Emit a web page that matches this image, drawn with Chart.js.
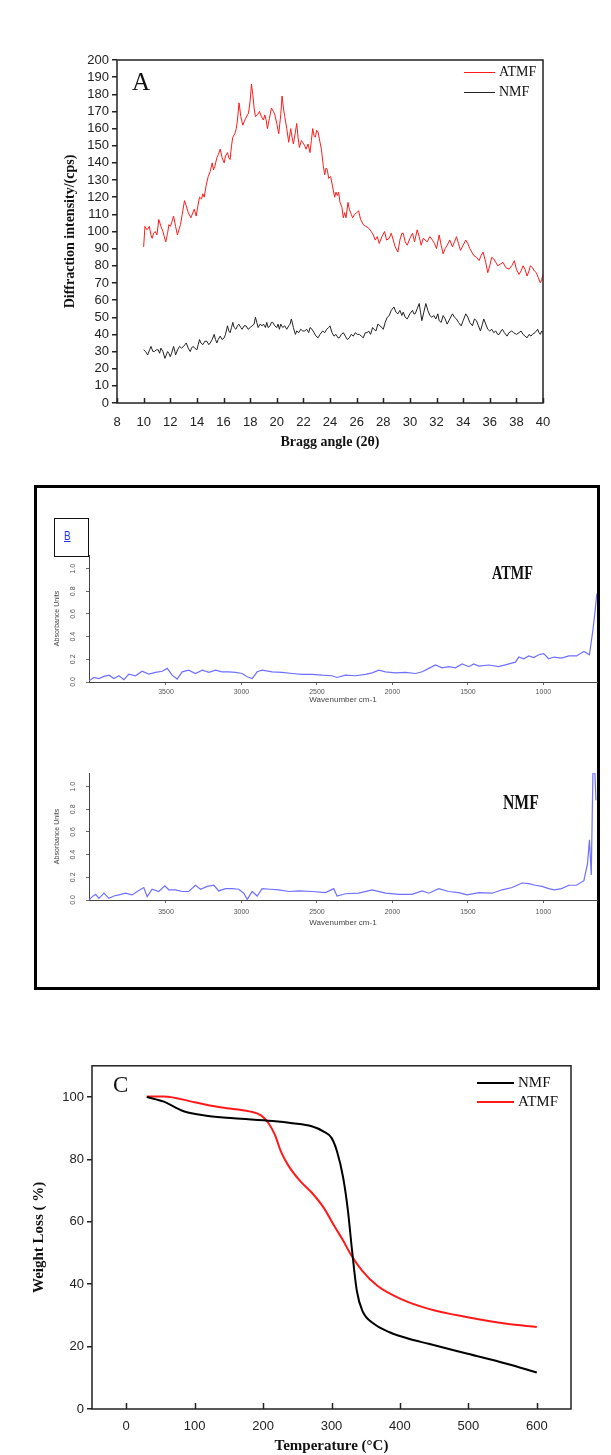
<!DOCTYPE html>
<html lang="en">
<head>
<meta charset="UTF-8">
<title>XRD / FTIR / TGA</title>
<script src="https://cdn.jsdelivr.net/npm/chart.js"></script>
<style>
    body { margin: 0; background: #fff; width: 611px; height: 1455px; position: relative; overflow: hidden; }
    canvas, .abs { position: absolute; }
    .serif { font-family: "Liberation Serif", "Times New Roman", serif; color: #111; }
    .leg { position: absolute; }
    .tag { font-weight: bold; transform-origin: left center; transform: scaleX(0.75); }
</style>
</head>
<body>

<!-- panel A -->
<canvas id="xrd" width="611" height="411" style="left:0;top:40px"></canvas>
<div class="abs serif" style="left:132px;top:69px;font-size:25px;line-height:25px">A</div>
<div class="leg" style="left:464px;top:72px;width:31px;height:1px;background:#ff1a1a"></div>
<div class="abs serif" style="left:499px;top:64px;font-size:14px;line-height:16px">ATMF</div>
<div class="leg" style="left:464px;top:92px;width:31px;height:1px;background:#222"></div>
<div class="abs serif" style="left:499px;top:84px;font-size:14px;line-height:16px">NMF</div>

<!-- panel B -->
<div class="abs" style="left:34px;top:485px;width:566px;height:505px;border:3px solid #000;box-sizing:border-box"></div>
<div class="abs" style="left:54px;top:518px;width:35px;height:39px;border:1.5px solid #111;box-sizing:border-box"></div>
<div class="abs" style="left:64px;top:528px;font-family:'Liberation Sans',Arial;font-size:13px;line-height:16px;color:#2233ee;text-decoration:underline;transform:scaleX(0.75);transform-origin:left center">B</div>
<canvas id="ftirA" width="560" height="155" style="left:40px;top:550px"></canvas>
<canvas id="ftirN" width="560" height="160" style="left:40px;top:768px"></canvas>
<div class="abs serif tag" style="left:492px;top:562px;font-size:19px;line-height:22px">ATMF</div>
<div class="abs serif tag" style="left:503px;top:790px;font-size:21px;line-height:24px">NMF</div>

<!-- panel C -->
<canvas id="tga" width="611" height="400" style="left:0;top:1055px"></canvas>
<div class="abs serif" style="left:113px;top:1073px;font-size:23px;line-height:23px">C</div>
<div class="leg" style="left:477px;top:1082px;width:37px;height:2px;background:#000"></div>
<div class="abs serif" style="left:518px;top:1074px;font-size:15px;line-height:17px">NMF</div>
<div class="leg" style="left:477px;top:1101px;width:37px;height:2px;background:#ff1a1a"></div>
<div class="abs serif" style="left:518px;top:1093px;font-size:15px;line-height:17px">ATMF</div>

<script>
    // ---- A: XRD, Bragg angle (2θ) vs intensity (cps)
    const xrdAngleATMF = [10.0, 10.1, 10.25, 10.35, 10.43, 10.55, 10.64, 10.75, 10.87, 11.0, 11.14, 11.3, 11.45, 11.55, 11.66, 11.8, 11.9, 12.0, 12.1, 12.25, 12.4, 12.54, 12.65, 12.77, 12.9, 13.07, 13.2, 13.35, 13.55, 13.7, 13.8, 13.95, 14.1, 14.2, 14.35, 14.45, 14.55, 14.7, 14.85, 15.0, 15.15, 15.25, 15.35, 15.5, 15.62, 15.75, 15.9, 16.05, 16.15, 16.3, 16.4, 16.5, 16.6, 16.7, 16.85, 16.96, 17.05, 17.17, 17.3, 17.45, 17.55, 17.67, 17.8, 17.88, 18.0, 18.1, 18.2, 18.3, 18.4, 18.55, 18.7, 18.85, 19.0, 19.1, 19.2, 19.3, 19.45, 19.6, 19.75, 19.86, 20.0, 20.15, 20.3, 20.4, 20.5, 20.6, 20.75, 20.9, 21.05, 21.15, 21.25, 21.4, 21.5, 21.6, 21.7, 21.85, 21.95, 22.1, 22.2, 22.35, 22.5, 22.6, 22.7, 22.8, 22.9, 23.0, 23.1, 23.2, 23.35, 23.5, 23.6, 23.7, 23.8, 23.9, 24.05, 24.2, 24.35, 24.45, 24.55, 24.65, 24.75, 24.9, 25.0, 25.1, 25.2, 25.35, 25.45, 25.6, 25.7, 25.85, 26.0, 26.15, 26.3, 26.5, 26.7, 26.9, 27.1, 27.25, 27.4, 27.55, 27.7, 27.9, 28.1, 28.25, 28.45, 28.6, 28.75, 28.9, 29.1, 29.25, 29.4, 29.5, 29.65, 29.8, 30.0, 30.2, 30.35, 30.55, 30.7, 30.85, 31.0, 31.15, 31.3, 31.5, 31.7, 31.85, 32.0, 32.2, 32.35, 32.5, 32.65, 32.8, 33.0, 33.2, 33.35, 33.5, 33.65, 33.8, 34.0, 34.2, 34.35, 34.5, 34.65, 34.8, 35.0, 35.2, 35.35, 35.5, 35.7, 35.85, 36.0, 36.15, 36.3, 36.45, 36.6, 36.8, 37.0, 37.2, 37.45, 37.65, 37.85, 38.0, 38.2, 38.35, 38.5, 38.65, 38.8, 38.95, 39.05, 39.2, 39.35, 39.5, 39.65, 39.8, 39.9, 40.0];
    const xrdIntATMF = [91, 103, 101, 102, 103, 98, 96, 99, 100, 98, 107, 103, 100, 97, 94, 99, 104, 103, 105, 109, 103, 98, 101, 104, 110, 118, 115, 111, 108, 111, 113, 109, 116, 120, 119, 122, 120, 127, 132, 135, 140, 136, 138, 143, 145, 148, 143, 140, 144, 146, 143, 142, 150, 155, 157, 160, 165, 175, 167, 162, 164, 166, 168, 169, 176, 186, 180, 172, 167, 168, 170, 167, 165, 168, 165, 160, 166, 172, 170, 168, 163, 157, 168, 179, 172, 167, 160, 152, 160, 155, 151, 158, 163, 155, 149, 153, 152, 150, 148, 151, 146, 153, 160, 156, 155, 159, 158, 154, 148, 138, 133, 137, 136, 131, 132, 126, 120, 123, 121, 123, 117, 114, 108, 111, 108, 117, 113, 110, 108, 110, 111, 112, 107, 104, 103, 102, 100, 98, 95, 97, 93, 97, 100, 95, 96, 99, 95, 91, 88, 95, 99, 99, 94, 92, 96, 99, 94, 101, 97, 92, 96, 95, 94, 97, 95, 93, 90, 98, 92, 87, 90, 92, 95, 91, 94, 97, 93, 89, 92, 95, 93, 90, 88, 86, 85, 83, 86, 88, 82, 76, 80, 85, 84, 82, 80, 81, 82, 79, 78, 80, 83, 78, 75, 77, 80, 78, 74, 77, 80, 79, 77, 76, 73, 70, 72, 75];
    const xrdAngleNMF = [10.0, 10.15, 10.3, 10.45, 10.55, 10.7, 10.8, 10.95, 11.1, 11.2, 11.3, 11.45, 11.6, 11.7, 11.8, 11.9, 12.0, 12.1, 12.25, 12.35, 12.4, 12.55, 12.7, 12.85, 13.0, 13.1, 13.2, 13.35, 13.5, 13.6, 13.7, 13.85, 14.0, 14.1, 14.2, 14.3, 14.45, 14.6, 14.75, 14.9, 15.0, 15.15, 15.3, 15.4, 15.5, 15.6, 15.75, 15.9, 16.05, 16.15, 16.3, 16.4, 16.5, 16.6, 16.7, 16.8, 16.93, 17.05, 17.15, 17.3, 17.4, 17.55, 17.7, 17.85, 18.0, 18.15, 18.3, 18.4, 18.5, 18.6, 18.75, 18.9, 19.0, 19.15, 19.25, 19.35, 19.5, 19.6, 19.7, 19.85, 20.0, 20.1, 20.2, 20.3, 20.45, 20.6, 20.75, 20.9, 21.0, 21.1, 21.25, 21.4, 21.5, 21.65, 21.8, 21.95, 22.1, 22.25, 22.4, 22.5, 22.65, 22.8, 22.95, 23.1, 23.25, 23.45, 23.6, 23.75, 23.9, 24.0, 24.15, 24.3, 24.45, 24.6, 24.7, 24.85, 25.0, 25.15, 25.3, 25.45, 25.6, 25.75, 25.9, 26.05, 26.2, 26.35, 26.5, 26.65, 26.8, 26.9, 27.05, 27.2, 27.3, 27.45, 27.6, 27.75, 27.9, 28.0, 28.15, 28.3, 28.45, 28.6, 28.8, 28.95, 29.1, 29.25, 29.4, 29.5, 29.65, 29.8, 30.0, 30.2, 30.3, 30.4, 30.55, 30.7, 30.8, 30.9, 31.05, 31.2, 31.35, 31.5, 31.65, 31.8, 31.95, 32.1, 32.2, 32.35, 32.5, 32.65, 32.8, 33.0, 33.2, 33.35, 33.5, 33.65, 33.85, 34.0, 34.2, 34.35, 34.5, 34.7, 34.85, 35.0, 35.15, 35.3, 35.45, 35.55, 35.7, 35.85, 36.0, 36.15, 36.3, 36.45, 36.6, 36.7, 36.85, 36.95, 37.1, 37.3, 37.45, 37.65, 37.8, 38.0, 38.2, 38.35, 38.5, 38.65, 38.8, 38.95, 39.1, 39.2, 39.4, 39.6, 39.7, 39.8, 39.9, 40.0];
    const xrdIntNMF = [31, 30, 28, 31, 33, 30, 30, 31, 31, 29, 32, 30, 26, 28, 30, 29, 27, 29, 33, 30, 28, 31, 33, 32, 33, 34, 35, 32, 30, 32, 33, 32, 31, 34, 37, 35, 34, 36, 36, 34, 35, 37, 40, 37, 35, 37, 39, 37, 38, 40, 45, 42, 41, 44, 47, 44, 43, 45, 46, 44, 43, 45, 45, 43, 44, 45, 46, 50, 47, 44, 46, 45, 46, 44, 47, 44, 45, 47, 47, 45, 44, 46, 43, 46, 44, 45, 43, 45, 46, 49, 44, 40, 42, 41, 43, 42, 42, 43, 41, 44, 43, 41, 39, 38, 40, 42, 41, 43, 44, 45, 41, 39, 40, 38, 38, 40, 41, 39, 37, 38, 40, 39, 41, 40, 40, 39, 38, 41, 41, 42, 40, 44, 43, 42, 46, 45, 44, 43, 47, 50, 51, 54, 56, 53, 52, 54, 51, 53, 50, 49, 52, 54, 52, 52, 55, 58, 53, 48, 53, 58, 54, 51, 50, 51, 49, 52, 48, 47, 51, 49, 46, 49, 52, 50, 49, 47, 45, 48, 52, 50, 47, 45, 49, 48, 45, 42, 46, 49, 46, 43, 42, 43, 41, 42, 40, 40, 42, 43, 41, 39, 41, 42, 41, 40, 41, 42, 40, 39, 38, 40, 39, 40, 41, 43, 41, 40, 42, 41];

    // ---- B: FTIR, wavenumber (cm-1) vs absorbance
    const ftirWaveTicks = [3500, 3000, 2500, 2000, 1500, 1000];
    const ftirWaveATMF = [4010, 3977, 3944, 3911, 3878, 3845, 3812, 3779, 3746, 3702, 3658, 3614, 3570, 3525, 3492, 3459, 3426, 3393, 3349, 3305, 3260, 3216, 3172, 3128, 3084, 3040, 2996, 2962, 2929, 2896, 2863, 2797, 2731, 2664, 2598, 2532, 2466, 2400, 2367, 2311, 2245, 2179, 2135, 2090, 2046, 1980, 1914, 1848, 1803, 1759, 1715, 1671, 1627, 1583, 1538, 1494, 1461, 1428, 1362, 1295, 1229, 1185, 1163, 1130, 1097, 1064, 1031, 998, 965, 930, 880, 831, 781, 732, 695, 672, 659, 646];
    const ftirAbsATMF = [0.01, 0.04, 0.03, 0.05, 0.06, 0.03, 0.055, 0.02, 0.07, 0.055, 0.095, 0.07, 0.085, 0.095, 0.12, 0.06, 0.026, 0.09, 0.105, 0.075, 0.105, 0.085, 0.105, 0.09, 0.09, 0.085, 0.075, 0.046, 0.03, 0.09, 0.105, 0.09, 0.085, 0.075, 0.067, 0.067, 0.06, 0.055, 0.04, 0.06, 0.055, 0.067, 0.08, 0.105, 0.09, 0.08, 0.085, 0.075, 0.09, 0.12, 0.15, 0.125, 0.135, 0.125, 0.16, 0.135, 0.16, 0.14, 0.15, 0.135, 0.16, 0.175, 0.22, 0.205, 0.23, 0.215, 0.24, 0.25, 0.205, 0.22, 0.21, 0.23, 0.23, 0.27, 0.24, 0.46, 0.61, 0.78];
    const ftirWaveNMF = [4010, 3988, 3966, 3944, 3911, 3878, 3845, 3812, 3768, 3724, 3691, 3647, 3625, 3592, 3548, 3508, 3481, 3437, 3393, 3349, 3305, 3271, 3227, 3183, 3150, 3106, 3062, 3018, 2985, 2962, 2929, 2896, 2863, 2808, 2752, 2686, 2620, 2532, 2444, 2389, 2367, 2311, 2223, 2135, 2046, 1958, 1870, 1803, 1759, 1693, 1627, 1561, 1505, 1428, 1340, 1273, 1207, 1141, 1097, 1053, 1009, 965, 928, 880, 831, 781, 732, 708, 695, 683, 672, 659, 652];
    const ftirAbsNMF = [0.0, 0.03, 0.05, 0.015, 0.06, 0.015, 0.035, 0.045, 0.06, 0.045, 0.075, 0.11, 0.03, 0.095, 0.075, 0.125, 0.09, 0.09, 0.075, 0.075, 0.13, 0.095, 0.12, 0.13, 0.08, 0.10, 0.10, 0.095, 0.06, 0.005, 0.075, 0.035, 0.10, 0.095, 0.09, 0.075, 0.08, 0.075, 0.065, 0.10, 0.035, 0.055, 0.06, 0.09, 0.06, 0.05, 0.05, 0.08, 0.06, 0.10, 0.075, 0.065, 0.045, 0.065, 0.06, 0.09, 0.11, 0.15, 0.145, 0.13, 0.12, 0.10, 0.09, 0.10, 0.13, 0.13, 0.17, 0.32, 0.53, 0.22, 1.12, 1.12, 0.88];
    const ftirAbsTicks = [0, 0.2, 0.4, 0.6, 0.8, 1.0];

    // ---- C: TGA, temperature (°C) vs weight (%)
    const tgaTempTicks = [0, 100, 200, 300, 400, 500, 600];
    const tgaWeightTicks = [0, 20, 40, 60, 80, 100];
    const tgaTempNMF = [30, 55, 83, 117, 157, 214, 243, 271, 288, 300, 308, 317, 324, 330, 337, 345, 362, 385, 413, 442, 499, 556, 600];
    const tgaWeightNMF = [100, 98.5, 95.5, 94, 93.2, 92.3, 91.6, 90.6, 89, 86.9, 82.6, 74.2, 63.6, 50.9, 37.9, 31.5, 27.3, 24.6, 22.5, 20.9, 17.7, 14.5, 11.7];
    const tgaTempATMF = [30, 55, 100, 140, 180, 197, 208, 217, 226, 237, 254, 271, 288, 305, 317, 328, 345, 367, 401, 442, 499, 556, 600];
    const tgaWeightATMF = [100.2, 100.2, 98.3, 96.6, 95.4, 94.1, 91.6, 88, 82.6, 78, 73.1, 69.4, 64.7, 58.3, 54, 49.6, 44.3, 39.5, 35.3, 32.1, 29.4, 27.3, 26.3];

    const pts = (xs, ys) => xs.map((x, i) => ({ x: x, y: ys[i] }));
    const useTicks = list => scale => { scale.ticks = list.map(v => ({ value: v })); };
    const SANS = "'Liberation Sans', Arial, sans-serif";
    const SERIF = "'Liberation Serif', 'Times New Roman', serif";

    Chart.defaults.font.family = SANS;
    Chart.defaults.color = '#222';

    // box round the plot + ticks pointing into the plot on the x axis
    const framePlugin = {
        id: 'frame',
        afterDraw(chart, args, o) {
            const ctx = chart.ctx, a = chart.chartArea, xs = chart.scales.x;
            ctx.save();
            ctx.strokeStyle = '#222';
            ctx.lineWidth = o.lw;
            ctx.strokeRect(a.left, a.top, a.right - a.left, a.bottom - a.top);
            xs.ticks.forEach(t => {
                const px = Math.round(xs.getPixelForValue(t.value)) + 0.5;
                ctx.beginPath();
                ctx.moveTo(px, a.bottom);
                ctx.lineTo(px, a.bottom - o.tick);
                ctx.stroke();
            });
            ctx.restore();
        }
    };

    // FTIR y labels are printed sideways
    const sideLabels = {
        id: 'sideLabels',
        afterDraw(chart, args, o) {
            const ctx = chart.ctx, ys = chart.scales.y;
            ctx.save();
            ctx.fillStyle = '#555';
            ctx.font = '7px ' + SANS;
            ctx.textAlign = 'center';
            ctx.textBaseline = 'middle';
            ys.ticks.forEach(t => {
                ctx.save();
                ctx.translate(o.x, ys.getPixelForValue(t.value));
                ctx.rotate(-Math.PI / 2);
                ctx.fillText(t.value.toFixed(1), 0, 0);
                ctx.restore();
            });
            ctx.restore();
        }
    };

    function fixSize(w, h) {
        return function (scale) {
            if (w) scale.width = w;
            if (h) scale.height = h;
        };
    }

    // ---------- A
    new Chart(document.getElementById('xrd'), {
        type: 'line',
        data: {
            datasets: [
                { label: 'ATMF', data: pts(xrdAngleATMF, xrdIntATMF), borderColor: '#ff1a1a', borderWidth: 1, pointRadius: 0, tension: 0 },
                { label: 'NMF', data: pts(xrdAngleNMF, xrdIntNMF), borderColor: '#222', borderWidth: 1, pointRadius: 0, tension: 0 }
            ]
        },
        options: {
            responsive: false, animation: false, devicePixelRatio: 1,
            layout: { padding: { left: 62, top: 20, right: 68, bottom: 0 } },
            plugins: { legend: { display: false }, tooltip: { enabled: false }, frame: { lw: 1.5, tick: 5 } },
            scales: {
                x: {
                    type: 'linear', min: 8, max: 40,
                    afterFit: fixSize(0, 48),
                    grid: { display: false }, border: { display: false },
                    ticks: { stepSize: 2, padding: 4, autoSkip: false, maxRotation: 0, font: { size: 13 }, color: '#222' },
                    title: { display: true, text: 'Bragg angle (2θ)', font: { family: SERIF, size: 14, weight: 'bold' }, color: '#111', padding: 0 }
                },
                y: {
                    min: 0, max: 200,
                    afterFit: fixSize(55, 0),
                    grid: { display: true, drawOnChartArea: false, drawTicks: true, tickLength: 5, color: '#222', lineWidth: 1.5 },
                    border: { display: false },
                    ticks: { stepSize: 10, padding: 3, autoSkip: false, font: { size: 13 }, color: '#222' },
                    title: { display: true, text: 'Diffraction intensity/(cps)', font: { family: SERIF, size: 14, weight: 'bold' }, color: '#111', padding: 0 }
                }
            }
        },
        plugins: [framePlugin]
    });

    // ---------- B (two spectra)
    function ftirChart(id, waves, abs, xHeight, xPad) {
        return new Chart(document.getElementById(id), {
            type: 'line',
            data: {
                datasets: [{ data: pts(waves, abs), borderColor: '#7070ff', borderWidth: 1.2, pointRadius: 0, tension: 0 }]
            },
            options: {
                responsive: false, animation: false, devicePixelRatio: 1,
                layout: { padding: { left: 13, top: 5, right: 3, bottom: 0 } },
                plugins: { legend: { display: false }, tooltip: { enabled: false }, sideLabels: { x: 33 } },
                scales: {
                    x: {
                        type: 'linear', reverse: true, min: 645, max: 4010,
                        afterFit: fixSize(0, xHeight),
                        afterBuildTicks: useTicks(ftirWaveTicks),
                        grid: { display: true, drawOnChartArea: false, tickLength: 3, color: '#666' },
                        border: { display: true, color: '#444', width: 1 },
                        ticks: { padding: xPad, font: { size: 7 }, color: '#555', maxRotation: 0, autoSkip: false, callback: v => String(v) },
                        title: { display: true, text: 'Wavenumber cm-1', font: { size: 8 }, color: '#444', padding: 0 }
                    },
                    y: {
                        min: 0, max: 1.12,
                        afterFit: fixSize(36, 0),
                        afterBuildTicks: useTicks(ftirAbsTicks),
                        grid: { display: true, drawOnChartArea: false, tickLength: 3, color: '#666' },
                        border: { display: true, color: '#444', width: 1 },
                        ticks: { display: false },
                        title: { display: true, text: 'Absorbance Units', font: { size: 7 }, color: '#444', padding: 0 }
                    }
                }
            },
            plugins: [sideLabels]
        });
    }
    ftirChart('ftirA', ftirWaveATMF, ftirAbsATMF, 23, 2.5);
    ftirChart('ftirN', ftirWaveNMF, ftirAbsNMF, 28, 4.8);

    // ---------- C
    new Chart(document.getElementById('tga'), {
        type: 'line',
        data: {
            datasets: [
                { label: 'NMF', data: pts(tgaTempNMF, tgaWeightNMF), borderColor: '#000', borderWidth: 2, pointRadius: 0, cubicInterpolationMode: 'monotone' },
                { label: 'ATMF', data: pts(tgaTempATMF, tgaWeightATMF), borderColor: '#ff1a1a', borderWidth: 2, pointRadius: 0, cubicInterpolationMode: 'monotone' }
            ]
        },
        options: {
            responsive: false, animation: false, devicePixelRatio: 1,
            layout: { padding: { left: 30.5, top: 9, right: 40, bottom: 0 } },
            plugins: { legend: { display: false }, tooltip: { enabled: false }, frame: { lw: 1.5, tick: 6 } },
            scales: {
                x: {
                    type: 'linear', min: -50, max: 650,
                    afterFit: fixSize(0, 46),
                    afterBuildTicks: useTicks(tgaTempTicks),
                    grid: { display: false }, border: { display: false },
                    ticks: { padding: 2, autoSkip: false, maxRotation: 0, font: { size: 13 }, color: '#222' },
                    title: { display: true, text: 'Temperature (°C)', font: { family: SERIF, size: 15, weight: 'bold' }, color: '#111', padding: 0 }
                },
                y: {
                    min: 0, max: 110,
                    afterFit: fixSize(61.5, 0),
                    afterBuildTicks: useTicks(tgaWeightTicks),
                    grid: { display: true, drawOnChartArea: false, drawTicks: true, tickLength: 5, color: '#222', lineWidth: 1.5 },
                    border: { display: false },
                    ticks: { padding: 3, autoSkip: false, font: { size: 13 }, color: '#222' },
                    title: { display: true, text: 'Weight Loss ( %)', font: { family: SERIF, size: 15, weight: 'bold' }, color: '#111', padding: 0 }
                }
            }
        },
        plugins: [framePlugin]
    });
</script>
</body>
</html>
